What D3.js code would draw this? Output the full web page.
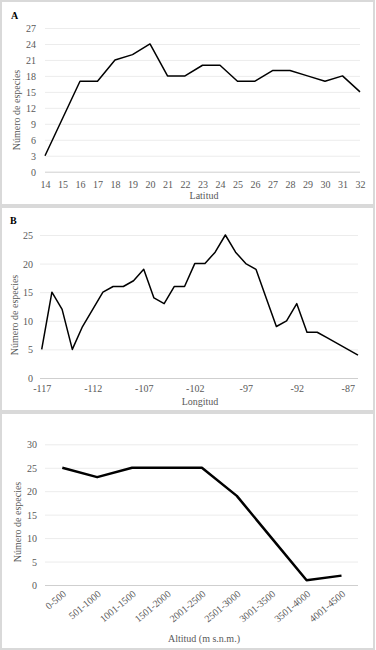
<!DOCTYPE html>
<html lang="es">
<head>
<meta charset="UTF-8">
<title>Número de especies</title>
<script src="https://d3js.org/d3.v7.min.js"></script>
<style>
  body { margin: 0; background: #fff; }
  svg { display: block; }
  text { font-family: "Liberation Serif", "Times New Roman", "DejaVu Serif", serif; fill: #595959; }
</style>
</head>
<body>
<svg width="376" height="650"></svg>
<script>
// A: latitud
const latitudes = d3.range(14, 33);
const speciesByLat = [3, 10, 17, 17, 21, 22, 24, 18, 18, 20, 20, 17, 17, 19, 19, 18, 17, 18, 15];
const latTicksY = d3.range(0, 28, 3);

// B: longitud
const longitudes = d3.range(-117, -85);
const speciesByLon = [5, 15, 12, 5, 9, 12, 15, 16, 16, 17, 19, 14, 13, 16, 16, 20,
                      20, 22, 25, 22, 20, 19, 14, 9, 10, 13, 8, 8, 7, 6, 5, 4];
const lonTicksX = [-117, -112, -107, -102, -97, -92, -87];
const lonTicksY = [0, 5, 10, 15, 20, 25];

// C: altitud
const altitudes = ["0-500", "501-1000", "1001-1500", "1501-2000", "2001-2500",
                   "2501-3000", "3001-3500", "3501-4000", "4001-4500"];
const speciesByAlt = [25, 23, 25, 25, 25, 19, 10, 1, 2];
const altTicksY = [0, 5, 10, 15, 20, 25, 30];

const FONT = '"Liberation Serif", "Times New Roman", serif';
const svg = d3.select('svg');

// panel frames
[[1, 1, 373, 204], [1, 207, 373, 204], [1, 413, 373, 236]].forEach(f => {
    svg.append('rect')
        .attr('x', f[0]).attr('y', f[1])
        .attr('width', f[2]).attr('height', f[3])
        .attr('fill', 'none')
        .attr('stroke', '#d9d9d9')
        .attr('stroke-width', 2);
});

function grid(y, x0, x1, ticks, labelX) {
    const g = svg.append('g')
        .attr('transform', `translate(${x0},0)`)
        .call(d3.axisLeft(y).tickValues(ticks).tickSize(-(x1 - x0)).tickPadding(0).tickFormat(d => d));
    g.attr('font-family', null);
    g.select('.domain').remove();
    g.selectAll('.tick line')
        .attr('stroke', d => d === 0 ? '#cfcfcf' : '#ececec')
        .attr('stroke-width', 1);
    g.selectAll('.tick text')
        .attr('x', labelX - x0)
        .attr('dy', '0.35em')
        .attr('font-size', 10)
        .style('font-family', FONT)
        .attr('fill', '#595959');
    return g;
}

function yTitle(x, y) {
    svg.append('text')
        .attr('transform', `translate(${x},${y}) rotate(-90)`)
        .attr('text-anchor', 'middle')
        .attr('dy', '0.35em')
        .attr('font-size', 10)
        .style('font-family', FONT)
        .text('Número de especies');
}

function xTitle(x, y, label) {
    svg.append('text')
        .attr('x', x).attr('y', y)
        .attr('text-anchor', 'middle')
        .attr('font-size', 10)
        .style('font-family', FONT)
        .text(label);
}

function panelLetter(x, y, letter) {
    svg.append('text')
        .attr('x', x).attr('y', y)
        .attr('font-size', 10)
        .attr('font-weight', 'bold')
        .style('font-family', FONT)
        .style('fill', '#000')
        .text(letter);
}

function styleTicks(g) {
    g.attr('font-family', null);
    g.select('.domain').remove();
    g.selectAll('text')
        .attr('font-size', 10)
        .style('font-family', FONT)
        .attr('fill', '#595959');
}

// ---------- A ----------
const xA = d3.scaleLinear().domain([14, 32]).range([45, 360]);
const yA = d3.scaleLinear().domain([0, 27]).range([171.7, 28]);
grid(yA, 45, 360, latTicksY, 36);

svg.append('g')
    .attr('transform', 'translate(0,171.7)')
    .call(d3.axisBottom(xA).tickValues(latitudes).tickSize(0).tickPadding(9).tickFormat(d => d))
    .call(styleTicks);

svg.append('path')
    .datum(speciesByLat)
    .attr('fill', 'none')
    .attr('stroke', '#000')
    .attr('stroke-width', 1.5)
    .attr('stroke-linejoin', 'round')
    .attr('d', d3.line().x((d, i) => xA(latitudes[i])).y(d => yA(d)));

panelLetter(11, 19, 'A');
yTitle(16, 110);
xTitle(204, 199, 'Latitud');

// ---------- B ----------
const xB = d3.scaleLinear().domain([-117, -86]).range([41.7, 358]);
const yB = d3.scaleLinear().domain([0, 25]).range([378, 235]);
grid(yB, 40, 358, lonTicksY, 33);

svg.append('g')
    .attr('transform', 'translate(0,378)')
    .call(d3.axisBottom(xB).tickValues(lonTicksX).tickSize(0).tickPadding(7).tickFormat(d => String(d)))
    .call(styleTicks);

svg.append('path')
    .datum(speciesByLon)
    .attr('fill', 'none')
    .attr('stroke', '#000')
    .attr('stroke-width', 1.5)
    .attr('stroke-linejoin', 'round')
    .attr('d', d3.line().x((d, i) => xB(longitudes[i])).y(d => yB(d)));

panelLetter(10, 224, 'B');
yTitle(14, 315);
xTitle(200, 405, 'Longitud');

// ---------- C ----------
const xC = d3.scalePoint().domain(altitudes).range([62.3, 341.5]);
const yC = d3.scaleLinear().domain([0, 30]).range([585, 444.3]);
grid(yC, 45, 358, altTicksY, 37);

svg.append('g')
    .attr('transform', 'translate(0,585)')
    .call(d3.axisBottom(xC).tickSize(0).tickFormat(d => d))
    .call(styleTicks)
    .selectAll('text')
    .attr('text-anchor', 'end')
    .attr('dy', 0)
    .attr('y', 0)
    .attr('transform', 'translate(4,10) rotate(-40)');

svg.append('path')
    .datum(speciesByAlt)
    .attr('fill', 'none')
    .attr('stroke', '#000')
    .attr('stroke-width', 2.5)
    .attr('stroke-linejoin', 'round')
    .attr('d', d3.line().x((d, i) => xC(altitudes[i])).y(d => yC(d)));

yTitle(17, 522);
xTitle(204, 642, 'Altitud (m s.n.m.)');
</script>
</body>
</html>
